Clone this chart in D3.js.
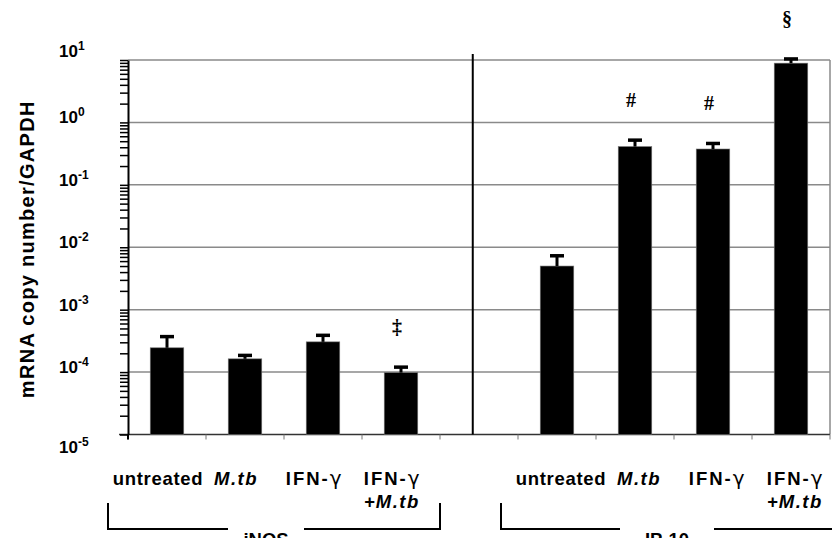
<!DOCTYPE html>
<html>
<head>
<meta charset="utf-8">
<script src="https://cdn.jsdelivr.net/npm/d3@7"></script>
<style>
  body { margin: 0; background: #fff; }
  text { font-family: "Liberation Sans", Arial, sans-serif; font-weight: bold; fill: #000; }
</style>
</head>
<body>
<script>
/////////////////////////////// data
var groups = ["iNOS", "IP-10"];
var treatments = ["untreated", "M.tb", "IFN-γ", "IFN-γ+M.tb"];
var inosMean = [2.45e-4, 1.63e-4, 3.05e-4, 0.98e-4];
var inosErr = [1.25e-4, 0.22e-4, 0.83e-4, 0.22e-4];
var ip10Mean = [5.0e-3, 0.41, 0.375, 8.9];
var ip10Err = [2.3e-3, 0.11, 0.085, 1.5];
var yTickExp = [1, 0, -1, -2, -3, -4, -5];
var yTitle = "mRNA copy number/GAPDH";
// significance marks: group, treatment, symbol
var signifGroup = ["iNOS", "IP-10", "IP-10", "IP-10"];
var signifTreat = ["IFN-γ+M.tb", "M.tb", "IFN-γ", "IFN-γ+M.tb"];
var signifSym = ["‡", "#", "#", "§"];

/////////////////////////////// sizes
var W = 832, H = 538;
var plot = { left: 128, right: 830, top: 60, bottom: 434.5 };

var svg = d3.select("body").append("svg").attr("width", W).attr("height", H);

// categories: 4 iNOS + empty slot + 4 IP-10
var cats = [];
treatments.forEach((t) => cats.push("iNOS|" + t));
cats.push("gap");
treatments.forEach((t) => cats.push("IP-10|" + t));

var x = d3.scaleBand().domain(cats).range([plot.left, plot.right]).padding(0);
var y = d3.scaleLog().domain([1e-5, 10]).range([plot.bottom, plot.top]);

var bars = [];
treatments.forEach(function (t, i) {
  bars.push({ key: "iNOS|" + t, mean: inosMean[i], err: inosErr[i] });
});
treatments.forEach(function (t, i) {
  bars.push({ key: "IP-10|" + t, mean: ip10Mean[i], err: ip10Err[i] });
});
var barW = x.step() * 0.43;
var cx = (k) => x(k) + x.step() / 2;

/////////////////////////////// grid + frame
var decades = yTickExp.map((e) => Math.pow(10, e)).filter((v) => v > 1e-5);
svg.append("g")
  .selectAll("line")
  .data(decades)
  .enter()
  .append("line")
  .attr("x1", plot.left)
  .attr("x2", plot.right)
  .attr("y1", (d) => y(d))
  .attr("y2", (d) => y(d))
  .attr("stroke", "#8a8a8a")
  .attr("stroke-width", 1.5);

svg.append("line")
  .attr("x1", plot.right).attr("x2", plot.right)
  .attr("y1", plot.top).attr("y2", plot.bottom)
  .attr("stroke", "#8a8a8a").attr("stroke-width", 1.5);

/////////////////////////////// x axis line and category ticks
svg.append("line")
  .attr("x1", plot.left - 9).attr("x2", plot.right)
  .attr("y1", plot.bottom).attr("y2", plot.bottom)
  .attr("stroke", "#333").attr("stroke-width", 1.5);

var bounds = cats.map((c) => x(c)).concat([plot.right]);
svg.append("g")
  .selectAll("line")
  .data(bounds)
  .enter()
  .append("line")
  .attr("x1", (d) => d).attr("x2", (d) => d)
  .attr("y1", plot.bottom).attr("y2", plot.bottom + 5)
  .attr("stroke", "#777").attr("stroke-width", 1);

/////////////////////////////// y axis with log minor ticks
var allTicks = [];
for (var e = -5; e < 1; e++) {
  for (var k = 1; k < 10; k++) allTicks.push(k * Math.pow(10, e));
}
allTicks.push(10);

var yAxis = svg.append("g")
  .attr("transform", "translate(" + plot.left + ",0)")
  .call(d3.axisLeft(y).tickValues(allTicks).tickSize(8).tickSizeOuter(0).tickFormat(""));
yAxis.select(".domain").attr("stroke", "#000").attr("stroke-width", 2);
yAxis.selectAll(".tick line").attr("stroke", "#000").attr("stroke-width", 1.5);
yAxis.append("line")
  .attr("x1", 0).attr("x2", 0)
  .attr("y1", plot.bottom).attr("y2", plot.bottom + 5)
  .attr("stroke", "#000").attr("stroke-width", 2);

// decade labels 10^n
var lab = svg.append("g")
  .selectAll("text")
  .data(yTickExp)
  .enter()
  .append("text")
  .attr("x", 59)
  .attr("y", function (d, i) {
    var off = 1;
    if (i === 0) off = -3;
    if (i === yTickExp.length - 1) off = 18;
    return y(Math.pow(10, d)) + off;
  })
  .style("font-size", "17px");
lab.append("tspan").text("10");
lab.append("tspan")
  .attr("dy", -7)
  .style("font-size", "12px")
  .text((d) => (d < 0 ? "-" : "") + Math.abs(d));

svg.append("text")
  .attr("transform", "translate(34," + ((plot.top + plot.bottom) / 2 + 2) + ") rotate(-90)")
  .attr("text-anchor", "middle")
  .style("font-size", "20px")
  .style("letter-spacing", "1.3px")
  .text(yTitle);

/////////////////////////////// separator between iNOS and IP-10
svg.append("line")
  .attr("x1", x("gap") + x.step() * 0.42).attr("x2", x("gap") + x.step() * 0.42)
  .attr("y1", plot.top - 6).attr("y2", plot.bottom)
  .attr("stroke", "#000").attr("stroke-width", 2);

/////////////////////////////// bars
svg.append("g")
  .selectAll("rect")
  .data(bars)
  .enter()
  .append("rect")
  .attr("x", (d) => cx(d.key) - barW / 2)
  .attr("y", (d) => y(d.mean))
  .attr("width", barW)
  .attr("height", (d) => plot.bottom - y(d.mean))
  .attr("fill", "#000")
  .attr("stroke", "#777")
  .attr("stroke-width", 0.6);

// upper error bars
var eb = svg.append("g").selectAll("g").data(bars).enter().append("g");
eb.append("line")
  .attr("x1", (d) => cx(d.key)).attr("x2", (d) => cx(d.key))
  .attr("y1", (d) => y(d.mean)).attr("y2", (d) => y(d.mean + d.err))
  .attr("stroke", "#000").attr("stroke-width", 3);
eb.append("line")
  .attr("x1", (d) => cx(d.key) - 7).attr("x2", (d) => cx(d.key) + 7)
  .attr("y1", (d) => y(d.mean + d.err)).attr("y2", (d) => y(d.mean + d.err))
  .attr("stroke", "#000").attr("stroke-width", 3.5);

// significance symbols
svg.append("g")
  .selectAll("text")
  .data(signifSym)
  .enter()
  .append("text")
  .attr("x", (d, i) => cx(signifGroup[i] + "|" + signifTreat[i]) - 4)
  .attr("y", function (d, i) {
    var b = bars.find((b) => b.key === signifGroup[i] + "|" + signifTreat[i]);
    return y(b.mean + b.err) - 33;
  })
  .attr("text-anchor", "middle")
  .style("font-family", "'Liberation Serif', 'Times New Roman', serif")
  .style("font-size", "20px")
  .style("font-weight", "bold")
  .text((d) => d);

/////////////////////////////// category labels
function writeLabel(sel, str) {
  var lines = str.split("+");
  lines.forEach(function (ln, li) {
    var t = sel.append("tspan")
      .attr("x", 0)
      .attr("dy", li === 0 ? 0 : 23);
    var part = li === 0 ? ln : "+" + ln;
    // split out italic M.tb and the greek gamma
    part.split(/(M\.tb|γ)/).forEach(function (p) {
      if (!p) return;
      var s = t.append("tspan").text(p);
      if (p === "M.tb") s.style("font-style", "italic").style("letter-spacing", "1.5px");
      if (p === "IFN-") s.style("letter-spacing", "2px");
      if (p === "γ") s.style("font-family", "'DejaVu Sans', sans-serif").style("font-weight", "normal").style("font-size", "20px");
    });
  });
}

groups.forEach(function (g, gi) {
  var dx = gi === 0 ? -9 : 4;
  treatments.forEach(function (t) {
    var tx = svg.append("text")
      .attr("transform", "translate(" + (cx(g + "|" + t) + dx) + ",485)")
      .attr("text-anchor", "middle")
      .style("font-size", "18.5px")
      .style("letter-spacing", "0.7px");
    writeLabel(tx, t);
  });
});

/////////////////////////////// group brackets
var brackets = [
  { name: groups[0], x0: x(cats[0]) - 20, x1: x("gap") },
  { name: groups[1], x0: x(cats[5]) - 17, x1: plot.right + 3 },
];
brackets.forEach(function (b, bi) {
  var mid = bi === 0 ? (b.x0 + b.x1) / 2 - 8 : (b.x0 + b.x1) / 2;
  var half = bi === 0 ? 38 : 47;
  var p = d3.path();
  p.moveTo(b.x0, 503);
  p.lineTo(b.x0, 529);
  p.lineTo(mid - half, 529);
  p.moveTo(mid + half, 529);
  p.lineTo(b.x1, 529);
  p.lineTo(b.x1, 503);
  svg.append("path")
    .attr("d", p.toString())
    .attr("fill", "none")
    .attr("stroke", "#000")
    .attr("stroke-width", 2);
  svg.append("text")
    .attr("x", mid)
    .attr("y", 546)
    .attr("text-anchor", "middle")
    .style("font-size", "18.5px")
    .text(b.name);
});
</script>
</body>
</html>
